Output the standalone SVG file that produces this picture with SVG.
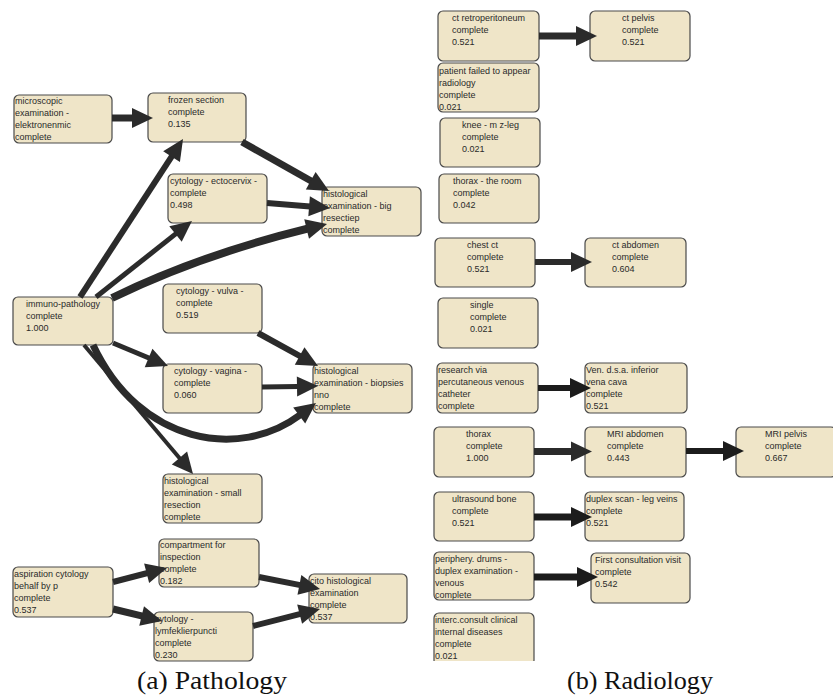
<svg xmlns="http://www.w3.org/2000/svg" width="833" height="698" viewBox="0 0 833 698">
  <defs>
    <style>
      .box { fill: #efe5c8; stroke: #4a4a4a; stroke-width: 1.2; }
      .t { font-family: "Liberation Sans", Arial, sans-serif; font-size: 9px; fill: #2a2a2a; }
      .e { fill: none; stroke: #2b2b2b; stroke-linecap: butt; }
      .dk { stroke: #1c1c1c; }
      .cap { font-family: "Liberation Serif", "Times New Roman", serif; font-size: 25px; fill: #111; }
    </style>
    <marker id="head" markerUnits="userSpaceOnUse" markerWidth="22" markerHeight="22" refX="0" refY="10" orient="auto" overflow="visible">
      <path d="M-1,0 L20,10 L-1,20 z" fill="#2b2b2b"/>
    </marker>
    <marker id="headDk" markerUnits="userSpaceOnUse" markerWidth="22" markerHeight="22" refX="0" refY="10" orient="auto" overflow="visible">
      <path d="M-1,0 L20,10 L-1,20 z" fill="#1c1c1c"/>
    </marker>
    <clipPath id="cutBottom">
      <rect x="420" y="600" width="140" height="61"/>
    </clipPath>
  </defs>

  <rect width="833" height="698" fill="#ffffff"/>

  <!-- Pathology nodes -->
  <g id="microscopic">
    <rect class="box" x="14" y="95" width="98" height="48" rx="5"/>
    <text class="t" x="15" y="104">microscopic<tspan x="15" dy="12">examination -</tspan><tspan x="15" dy="12">elektronenmic</tspan><tspan x="15" dy="12">complete</tspan></text>
  </g>
  <g id="frozen-section">
    <rect class="box" x="148" y="93" width="98" height="49" rx="5"/>
    <text class="t" x="168" y="103">frozen section<tspan x="168" dy="12">complete</tspan><tspan x="168" dy="12">0.135</tspan></text>
  </g>
  <g id="cytology-ectocervix">
    <rect class="box" x="168" y="174" width="99" height="49" rx="5"/>
    <text class="t" x="170" y="184">cytology - ectocervix -<tspan x="170" dy="12">complete</tspan><tspan x="170" dy="12">0.498</tspan></text>
  </g>
  <g id="histological-big">
    <rect class="box" x="322" y="187" width="99" height="49" rx="5"/>
    <text class="t" x="323" y="197">histological<tspan x="323" dy="12">examination - big</tspan><tspan x="323" dy="12">resectiep</tspan><tspan x="323" dy="12">complete</tspan></text>
  </g>
  <g id="immuno-pathology">
    <rect class="box" x="13" y="297" width="100" height="48" rx="5"/>
    <text class="t" x="26" y="307">immuno-pathology<tspan x="26" dy="12">complete</tspan><tspan x="26" dy="12">1.000</tspan></text>
  </g>
  <g id="cytology-vulva">
    <rect class="box" x="163" y="284" width="99" height="49" rx="5"/>
    <text class="t" x="176" y="294">cytology - vulva -<tspan x="176" dy="12">complete</tspan><tspan x="176" dy="12">0.519</tspan></text>
  </g>
  <g id="cytology-vagina">
    <rect class="box" x="163" y="364" width="99" height="49" rx="5"/>
    <text class="t" x="174" y="374">cytology - vagina -<tspan x="174" dy="12">complete</tspan><tspan x="174" dy="12">0.060</tspan></text>
  </g>
  <g id="histological-biopsies">
    <rect class="box" x="313" y="364" width="99" height="49" rx="5"/>
    <text class="t" x="314" y="374">histological<tspan x="314" dy="12">examination - biopsies</tspan><tspan x="314" dy="12">nno</tspan><tspan x="314" dy="12">complete</tspan></text>
  </g>
  <g id="histological-small">
    <rect class="box" x="163" y="474" width="99" height="49" rx="5"/>
    <text class="t" x="164" y="484">histological<tspan x="164" dy="12">examination - small</tspan><tspan x="164" dy="12">resection</tspan><tspan x="164" dy="12">complete</tspan></text>
  </g>
  <g id="compartment">
    <rect class="box" x="159" y="539" width="100" height="48" rx="5"/>
    <text class="t" x="160" y="548">compartment for<tspan x="160" dy="12">inspection</tspan><tspan x="160" dy="12">complete</tspan><tspan x="160" dy="12">0.182</tspan></text>
  </g>
  <g id="aspiration-cytology">
    <rect class="box" x="13" y="567" width="100" height="50" rx="5"/>
    <text class="t" x="14" y="577">aspiration cytology<tspan x="14" dy="12">behalf by p</tspan><tspan x="14" dy="12">complete</tspan><tspan x="14" dy="12">0.537</tspan></text>
  </g>
  <g id="cytology-lymf">
    <rect class="box" x="154" y="612" width="99" height="49" rx="5"/>
    <text class="t" x="155" y="622">cytology -<tspan x="155" dy="12">lymfeklierpuncti</tspan><tspan x="155" dy="12">complete</tspan><tspan x="155" dy="12">0.230</tspan></text>
  </g>
  <g id="cito-histological">
    <rect class="box" x="309" y="574" width="98" height="49" rx="5"/>
    <text class="t" x="310" y="584">cito histological<tspan x="310" dy="12">examination</tspan><tspan x="310" dy="12">complete</tspan><tspan x="310" dy="12">0.537</tspan></text>
  </g>

  <!-- Radiology nodes -->
  <g id="ct-retroperitoneum">
    <rect class="box" x="438" y="11" width="101" height="50" rx="5"/>
    <text class="t" x="452" y="21">ct retroperitoneum<tspan x="452" dy="12">complete</tspan><tspan x="452" dy="12">0.521</tspan></text>
  </g>
  <g id="ct-pelvis">
    <rect class="box" x="590" y="11" width="100" height="50" rx="5"/>
    <text class="t" x="622" y="21">ct pelvis<tspan x="622" dy="12">complete</tspan><tspan x="622" dy="12">0.521</tspan></text>
  </g>
  <g id="patient-failed">
    <rect class="box" x="438" y="63" width="101" height="49" rx="5"/>
    <text class="t" x="439" y="74">patient failed to appear<tspan x="439" dy="12">radiology</tspan><tspan x="439" dy="12">complete</tspan><tspan x="439" dy="12">0.021</tspan></text>
  </g>
  <g id="knee">
    <rect class="box" x="440" y="118" width="100" height="49" rx="5"/>
    <text class="t" x="462" y="128">knee - m z-leg<tspan x="462" dy="12">complete</tspan><tspan x="462" dy="12">0.021</tspan></text>
  </g>
  <g id="thorax-room">
    <rect class="box" x="439" y="174" width="100" height="49" rx="5"/>
    <text class="t" x="453" y="184">thorax - the room<tspan x="453" dy="12">complete</tspan><tspan x="453" dy="12">0.042</tspan></text>
  </g>
  <g id="chest-ct">
    <rect class="box" x="435" y="238" width="100" height="49" rx="5"/>
    <text class="t" x="467" y="248">chest ct<tspan x="467" dy="12">complete</tspan><tspan x="467" dy="12">0.521</tspan></text>
  </g>
  <g id="ct-abdomen">
    <rect class="box" x="585" y="238" width="101" height="49" rx="5"/>
    <text class="t" x="612" y="248">ct abdomen<tspan x="612" dy="12">complete</tspan><tspan x="612" dy="12">0.604</tspan></text>
  </g>
  <g id="single">
    <rect class="box" x="438" y="298" width="100" height="50" rx="5"/>
    <text class="t" x="470" y="308">single<tspan x="470" dy="12">complete</tspan><tspan x="470" dy="12">0.021</tspan></text>
  </g>
  <g id="research-venous">
    <rect class="box" x="437" y="363" width="101" height="50" rx="5"/>
    <text class="t" x="438" y="373">research via<tspan x="438" dy="12">percutaneous venous</tspan><tspan x="438" dy="12">catheter</tspan><tspan x="438" dy="12">complete</tspan></text>
  </g>
  <g id="ven-dsa">
    <rect class="box" x="585" y="363" width="102" height="50" rx="5"/>
    <text class="t" x="586" y="373">Ven. d.s.a. inferior<tspan x="586" dy="12">vena cava</tspan><tspan x="586" dy="12">complete</tspan><tspan x="586" dy="12">0.521</tspan></text>
  </g>
  <g id="thorax">
    <rect class="box" x="434" y="427" width="100" height="50" rx="5"/>
    <text class="t" x="466" y="437">thorax<tspan x="466" dy="12">complete</tspan><tspan x="466" dy="12">1.000</tspan></text>
  </g>
  <g id="mri-abdomen">
    <rect class="box" x="585" y="427" width="101" height="50" rx="5"/>
    <text class="t" x="607" y="437">MRI abdomen<tspan x="607" dy="12">complete</tspan><tspan x="607" dy="12">0.443</tspan></text>
  </g>
  <g id="mri-pelvis">
    <rect class="box" x="736" y="427" width="100" height="50" rx="5"/>
    <text class="t" x="765" y="437">MRI pelvis<tspan x="765" dy="12">complete</tspan><tspan x="765" dy="12">0.667</tspan></text>
  </g>
  <g id="ultrasound-bone">
    <rect class="box" x="434" y="492" width="100" height="49" rx="5"/>
    <text class="t" x="452" y="502">ultrasound bone<tspan x="452" dy="12">complete</tspan><tspan x="452" dy="12">0.521</tspan></text>
  </g>
  <g id="duplex-scan">
    <rect class="box" x="585" y="492" width="99" height="49" rx="5"/>
    <text class="t" x="586" y="502">duplex scan - leg veins<tspan x="586" dy="12">complete</tspan><tspan x="586" dy="12">0.521</tspan></text>
  </g>
  <g id="periphery-drums">
    <rect class="box" x="434" y="552" width="100" height="48" rx="5"/>
    <text class="t" x="435" y="562">periphery. drums -<tspan x="435" dy="12">duplex examination -</tspan><tspan x="435" dy="12">venous</tspan><tspan x="435" dy="12">complete</tspan></text>
  </g>
  <g id="first-consultation">
    <rect class="box" x="591" y="553" width="99" height="50" rx="5"/>
    <text class="t" x="595" y="563">First consultation visit<tspan x="595" dy="12">complete</tspan><tspan x="595" dy="12">0.542</tspan></text>
  </g>
  <g id="interc-consult" clip-path="url(#cutBottom)">
    <rect class="box" x="434" y="613" width="100" height="52" rx="5"/>
    <text class="t" x="435" y="623">interc.consult clinical<tspan x="435" dy="12">internal diseases</tspan><tspan x="435" dy="12">complete</tspan><tspan x="435" dy="12">0.021</tspan></text>
  </g>

  <!-- Connectors -->
  <g id="connectors">
    <!-- pathology -->
    <path class="e" stroke-width="7" marker-end="url(#head)" d="M112,118 L133,118"/>
    <path class="e" stroke-width="7" marker-end="url(#head)" d="M242,142 L311.6,181.2"/>
    <path class="e" stroke-width="6" marker-end="url(#head)" d="M267,203 L310.1,206.4"/>
    <path class="e" stroke-width="6" marker-end="url(#head)" d="M80,297 L172.1,155.8"/>
    <path class="e" stroke-width="5" marker-end="url(#head)" d="M96,297 L176.3,233.4"/>
    <path class="e" stroke-width="8" marker-end="url(#head)" d="M112,298 Q200,255 307.6,228.7"/>
    <path class="e" stroke-width="5" marker-end="url(#head)" d="M113,343 L149.5,358.3"/>
    <path class="e" stroke-width="4" marker-end="url(#head)" d="M84,345 L180.1,458.7"/>
    <path class="e" stroke-width="7" marker-end="url(#head)" d="M93,345 C140,445 240,460 300,415"/>
    <path class="e" stroke-width="6" marker-end="url(#head)" d="M258,333 L300.5,356.4"/>
    <path class="e" stroke-width="5" marker-end="url(#head)" d="M262,387 L298,386.4"/>
    <path class="e" stroke-width="6" marker-end="url(#head)" d="M113,582 L147.6,573"/>
    <path class="e" stroke-width="7" marker-end="url(#head)" d="M113,609 L142.6,616.2"/>
    <path class="e" stroke-width="6" marker-end="url(#head)" d="M259,577 L300.4,585.1"/>
    <path class="e" stroke-width="6" marker-end="url(#head)" d="M253,626 L300.6,613.9"/>
    <!-- radiology -->
    <path class="e" stroke-width="7" marker-end="url(#head)" d="M539,36 L577,36"/>
    <path class="e" stroke-width="6" marker-end="url(#head)" d="M535,262 L572,262"/>
    <path class="e dk" stroke-width="6" marker-end="url(#headDk)" d="M538,388 L571,388"/>
    <path class="e" stroke-width="7" marker-end="url(#head)" d="M534,451.5 L572,451.5"/>
    <path class="e dk" stroke-width="6" marker-end="url(#headDk)" d="M686,451 L724,451"/>
    <path class="e dk" stroke-width="7" marker-end="url(#headDk)" d="M534,517 L572,517"/>
    <path class="e dk" stroke-width="7" marker-end="url(#headDk)" d="M534,577 L578,577"/>
  </g>

  <!-- Sub-figure captions -->
  <text class="cap" x="137" y="689" textLength="150" lengthAdjust="spacingAndGlyphs">(a) Pathology</text>
  <text class="cap" x="567" y="689" textLength="146" lengthAdjust="spacingAndGlyphs">(b) Radiology</text>
</svg>
